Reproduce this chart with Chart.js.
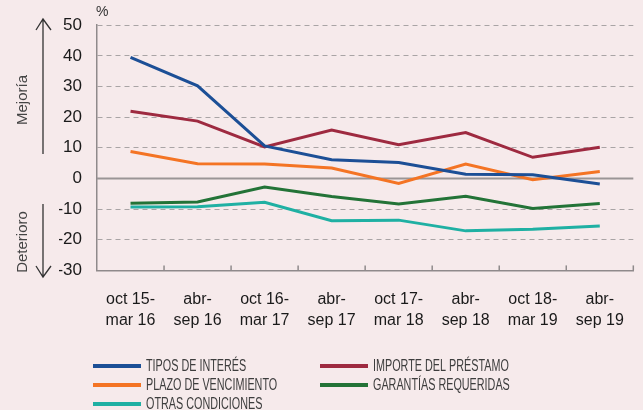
<!DOCTYPE html>
<html>
<head>
<meta charset="utf-8">
<script src="https://cdn.jsdelivr.net/npm/chart.js@4.4.1/dist/chart.umd.min.js"></script>
<style>
  html, body { margin: 0; padding: 0; background: #f6eaeb; }
  #wrap { width: 643px; height: 410px; }
</style>
</head>
<body>
<div id="wrap"><canvas id="myChart" width="643" height="410"></canvas></div>
<script>
let labels = [['oct 15-', 'mar 16'], ['abr-', 'sep 16'], ['oct 16-', 'mar 17'], ['abr-', 'sep 17'],
  ['oct 17-', 'mar 18'], ['abr-', 'sep 18'], ['oct 18-', 'mar 19'], ['abr-', 'sep 19']];
let seriesNames = ['TIPOS DE INTERÉS', 'IMPORTE DEL PRÉSTAMO', 'PLAZO DE VENCIMIENTO', 'GARANTÍAS REQUERIDAS', 'OTRAS CONDICIONES'];
let tiposInteres = [39.5, 30.2, 10.6, 6.1, 5.2, 1.4, 1.2, -1.8];
let importePrestamo = [21.9, 18.7, 10.3, 15.8, 11.0, 15.0, 6.9, 10.2];
let plazoVencimiento = [8.8, 4.8, 4.7, 3.4, -1.6, 4.7, -0.4, 2.3];
let garantias = [-8.1, -7.7, -2.8, -5.9, -8.3, -5.8, -9.8, -8.2];
let otrasCondiciones = [-9.3, -9.2, -7.8, -13.8, -13.6, -17.1, -16.6, -15.5];
let colorHex = ['#1c4f96', '#9e2a40', '#f47424', '#237337', '#1fb0a3'];

Chart.defaults.font.family = "'Liberation Sans', Arial, sans-serif";

// solid zero line + inward ticks on the category axis
const axisExtras = {
  id: 'axisExtras',
  beforeDatasetsDraw(chart) {
    const {ctx, chartArea, scales: {x, y}} = chart;
    ctx.save();
    ctx.strokeStyle = '#9a9596';
    ctx.lineWidth = 2;
    const y0 = y.getPixelForValue(0);
    ctx.beginPath();
    ctx.moveTo(chartArea.left, y0);
    ctx.lineTo(chartArea.right, y0);
    ctx.stroke();

    ctx.strokeStyle = '#8f8a8b';
    ctx.lineWidth = 1.5;
    const n = chart.data.labels.length;
    for (let i = 1; i <= n; i++) {
      let px = i < n ? (x.getPixelForTick(i - 1) + x.getPixelForTick(i)) / 2 : chartArea.right;
      ctx.beginPath();
      ctx.moveTo(px, chartArea.bottom);
      ctx.lineTo(px, chartArea.bottom - 5);
      ctx.stroke();
    }
    ctx.restore();
  },
  afterDraw(chart) {
    const {ctx} = chart;
    ctx.save();
    // % label
    ctx.fillStyle = '#333';
    ctx.font = "14px 'Liberation Sans'";
    ctx.textAlign = 'left';
    ctx.textBaseline = 'middle';
    ctx.fillText('%', 96, 12);

    // Mejoría / Deterioro arrows
    ctx.strokeStyle = '#333';
    ctx.lineWidth = 1.3;
    ctx.beginPath();
    ctx.moveTo(43, 19); ctx.lineTo(43, 154);
    ctx.moveTo(36, 30); ctx.lineTo(43, 19); ctx.lineTo(51, 30);
    ctx.moveTo(43, 204); ctx.lineTo(43, 277);
    ctx.moveTo(36, 266); ctx.lineTo(43, 277); ctx.lineTo(51, 266);
    ctx.stroke();

    ctx.fillStyle = '#444';
    ctx.font = "15px 'Liberation Sans'";
    ctx.textAlign = 'center';
    ctx.textBaseline = 'middle';
    ctx.save();
    ctx.translate(23, 100);
    ctx.rotate(-Math.PI / 2);
    ctx.fillText('Mejoría', 0, 0);
    ctx.restore();
    ctx.save();
    ctx.translate(23, 242);
    ctx.rotate(-Math.PI / 2);
    ctx.fillText('Deterioro', 0, 0);
    ctx.restore();

    // legend in two columns, condensed text
    const colX = [93, 320];
    const rowY = [366, 385, 404];
    ctx.font = "16px 'Liberation Sans'";
    ctx.textAlign = 'left';
    chart.data.datasets.forEach((ds, i) => {
      const cx = colX[i % 2];
      const cy = rowY[Math.floor(i / 2)];
      ctx.fillStyle = ds.borderColor;
      ctx.fillRect(cx, cy - 2, 48, 4);
      ctx.fillStyle = '#3d3d3d';
      ctx.save();
      ctx.translate(cx + 53, cy + 1);
      ctx.scale(0.675, 1);
      ctx.fillText(ds.label, 0, 0);
      ctx.restore();
    });
    ctx.restore();
  }
};

let ctx = document.getElementById('myChart').getContext('2d');
let seriesData = [tiposInteres, importePrestamo, plazoVencimiento, garantias, otrasCondiciones];

let myChart = new Chart(ctx, {
  type: 'line',
  data: {
    labels: labels,
    datasets: seriesNames.map((name, i) => ({
      label: name,
      data: seriesData[i],
      borderColor: colorHex[i],
      backgroundColor: colorHex[i],
      borderWidth: 3,
      pointRadius: 0,
      tension: 0,
      fill: false
    }))
  },
  options: {
    responsive: false,
    animation: false,
    layout: {
      padding: { left: 59, top: 24, right: 3, bottom: 60 }
    },
    plugins: {
      legend: { display: false },
      tooltip: { enabled: false }
    },
    scales: {
      x: {
        offset: true,
        grid: { display: false, drawTicks: false },
        border: { display: true, color: '#8f8a8b', width: 1.5 },
        ticks: {
          color: '#1a1a1a',
          padding: 19,
          maxRotation: 0,
          autoSkip: false,
          font: { size: 16, lineHeight: 1.3 }
        }
      },
      y: {
        min: -30,
        max: 50,
        afterFit(scale) { scale.width = 38; },
        grid: {
          drawTicks: false,
          lineWidth: 1,
          borderDash: [5, 4],
          color: (c) => c.tick && c.tick.value === 0 ? 'rgba(0,0,0,0)' : '#a9a4a5'
        },
        border: { display: true, color: '#8f8a8b', width: 1.5, dash: [5, 4] },
        ticks: {
          stepSize: 10,
          color: '#1a1a1a',
          padding: 15,
          font: { size: 17 }
        }
      }
    }
  },
  plugins: [axisExtras]
});
</script>
</body>
</html>
